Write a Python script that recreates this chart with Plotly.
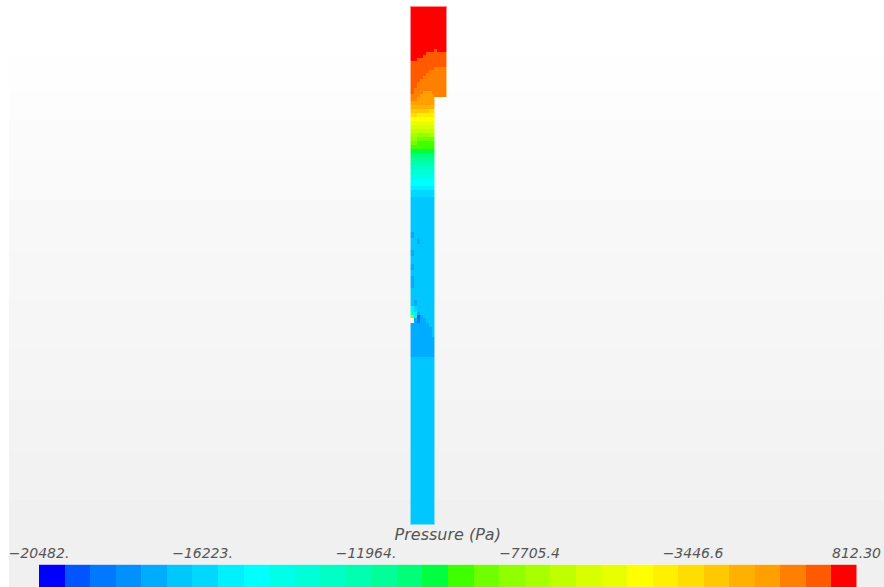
import plotly.graph_objects as go

# Contour band colours of the legend, lowest pressure first
band_colors = ["#0000ff","#0055ff","#0078ff","#0090ff","#00acff","#00c8ff","#00d8ff","#00f0ff",
               "#00ffff","#00ffe8","#00ffd8","#00ffc4","#00ffb0","#00ff98","#00ff78","#00ff40",
               "#40ff00","#70ff00","#90ff00","#a8ff00","#c0ff00","#d8ff00","#e8ff00","#ffff00",
               "#fff000","#ffdd00","#ffc800","#ffb000","#ffa000","#ff8000","#ff5a00","#ff0000"]
p_min = -20482.0
p_max = 812.30
tick_values = [-20482.0, -16223.0, -11964.0, -7705.4, -3446.6, 812.30]
tick_labels = ["\u221220482.", "\u221216223.", "\u221211964.", "\u22127705.4", "\u22123446.6", "812.30"]

# Page background grey level by screen row
bg_x = [9, 884]
bg_y = [0, 55, 90, 120, 160, 200, 250, 300, 350, 400, 450, 500, 587]
bg_level = [255, 254, 253, 251, 250, 248, 247, 246, 245, 243, 242, 240]

# Sampled pressure band per cell of the section
cell_x = [411, 414, 417, 420, 423, 426, 429, 432, 434, 437, 440, 443, 446]
cell_y = [7, 49, 52, 55, 58, 61, 67, 70, 73, 76, 79, 82, 88, 91, 94, 97, 101, 105, 109, 113, 117, 121, 125,
          129, 133, 137, 141, 145, 149, 153, 157, 161, 165, 170, 175, 180, 186, 190, 197, 232, 238, 244, 250,
          256, 264, 270, 276, 288, 294, 300, 306, 312, 315, 318, 323, 327, 332, 337, 345, 357, 524]
_ = None
cell_band = [
 [31,31,31,31,31,31,31,31,31,31,31,31],
 [31,31,31,31,31,31,31,31,30,31,31,31],
 [31,31,31,31,31,30,30,30,30,30,30,30],
 [31,31,31,31,30,30,30,30,30,30,30,30],
 [31,31,30,30,30,30,30,30,30,30,30,30],
 [30,30,30,30,30,30,30,30,30,30,30,30],
 [30,30,30,30,30,30,30,30,29,29,29,29],
 [30,30,30,30,30,30,29,29,29,29,29,29],
 [30,30,30,30,30,29,29,29,29,29,29,29],
 [30,30,30,30,29,29,29,29,29,29,29,29],
 [30,30,30,29,29,29,29,29,29,29,29,29],
 [30,30,29,29,29,29,29,29,29,29,29,29],
 [30,29,29,29,29,29,29,29,29,29,29,29],
 [30,29,29,29,28,28,28,29,29,29,29,29],
 [29,29,29,28,28,28,28,28,29,29,29,29],
 [29,29,28,28,28,28,28,28,_,_,_,_],
 [28,28,28,28,28,28,28,28,_,_,_,_],
 [27,27,27,27,27,27,27,27,_,_,_,_],
 [26,26,26,26,26,26,25,25,_,_,_,_],
 [25,25,24,24,24,24,24,24,_,_,_,_],
 [23,23,23,23,23,23,23,23,_,_,_,_],
 [22,22,22,22,22,22,22,22,_,_,_,_],
 [21,21,21,21,21,21,21,21,_,_,_,_],
 [20,20,20,20,20,20,20,20,_,_,_,_],
 [19,19,18,18,18,18,19,19,_,_,_,_],
 [18,18,17,17,17,17,17,17,_,_,_,_],
 [17,17,16,16,16,16,16,16,_,_,_,_],
 [16,16,16,16,16,16,16,16,_,_,_,_],
 [15,15,15,15,15,15,15,15,_,_,_,_],
 [14,14,14,14,14,14,14,14,_,_,_,_],
 [13,13,13,13,13,13,13,13,_,_,_,_],
 [12,12,12,12,12,12,12,12,_,_,_,_],
 [11,11,11,11,11,11,11,11,_,_,_,_],
 [10,10,10,10,10,10,10,10,_,_,_,_],
 [9,9,9,9,9,9,9,9,_,_,_,_],
 [8,8,8,8,8,8,8,8,_,_,_,_],
 [7,7,7,7,7,7,7,7,_,_,_,_],
 [6,6,6,6,6,6,6,6,_,_,_,_],
 [5,5,5,5,5,5,5,5,_,_,_,_],
 [4,5,5,5,5,5,5,5,_,_,_,_],
 [5,5,4,5,5,5,5,5,_,_,_,_],
 [5,5,5,5,5,5,5,5,_,_,_,_],
 [4,5,5,5,5,5,5,5,_,_,_,_],
 [5,5,5,5,5,5,5,5,_,_,_,_],
 [4,5,5,5,5,5,5,5,_,_,_,_],
 [5,5,5,5,5,5,5,5,_,_,_,_],
 [4,5,5,5,5,5,5,5,_,_,_,_],
 [5,5,5,5,5,5,5,5,_,_,_,_],
 [5,5,5,5,5,5,5,5,_,_,_,_],
 [5,4,5,5,5,5,5,5,_,_,_,_],
 [7,6,5,5,5,5,5,5,_,_,_,_],
 [10,7,4,5,5,5,5,5,_,_,_,_],
 [18,12,1,4,5,5,5,5,_,_,_,_],
 [_,4,2,4,4,5,5,5,_,_,_,_],
 [4,4,4,4,4,4,5,5,_,_,_,_],
 [4,4,4,4,4,4,4,5,_,_,_,_],
 [4,4,4,4,4,4,4,5,_,_,_,_],
 [4,4,4,4,4,4,4,4,_,_,_,_],
 [4,4,4,4,4,4,4,4,_,_,_,_],
 [5,5,5,5,5,5,5,5,_,_,_,_],
]
# Pale rim around the section: same cells, one pixel wider, half transparent
rim_x = [410, 414, 417, 420, 423, 426, 429, 432, 435, 437, 440, 443, 447]
rim_y = [6] + cell_y[1:-1] + [525]

n_bands = len(band_colors)
step = (p_max - p_min) / n_bands
band_edges = [p_min + i * step for i in range(n_bands + 1)]
band_mid = [p_min + (i + 0.5) * step for i in range(n_bands)]
scale = []
for i, c in enumerate(band_colors):
    scale += [[i / n_bands, c], [(i + 1) / n_bands, c]]
cell_pressure = [[None if b is None else band_mid[b] for b in row] for row in cell_band]

W, H = 884, 587
fig = go.Figure()
fig.add_trace(go.Heatmap(x=bg_x, y=bg_y, z=[[v] for v in bg_level], zmin=0, zmax=255,
                         colorscale=[[0, "#000000"], [1, "#ffffff"]], showscale=False, hoverinfo="skip"))
fig.add_trace(go.Heatmap(x=rim_x, y=rim_y, z=cell_pressure, zmin=p_min, zmax=p_max, opacity=0.45,
                         colorscale=scale, showscale=False, hoverinfo="skip"))
fig.add_trace(go.Heatmap(x=cell_x, y=cell_y, z=cell_pressure, zmin=p_min, zmax=p_max,
                         colorscale=scale, showscale=False, hoverongaps=False))
fig.add_trace(go.Heatmap(x=band_edges, y=[0, 1], z=[band_mid], zmin=p_min, zmax=p_max,
                         colorscale=scale, showscale=False, xaxis="x2", yaxis="y2"))

font = dict(family="DejaVu Sans", size=14, color="#555555", style="italic")
title_font = dict(family="DejaVu Sans", size=16, color="#555555", style="italic")
fig.update_layout(
    width=W, height=H, autosize=False,
    margin=dict(l=0, r=0, t=0, b=0, pad=0, autoexpand=False),
    paper_bgcolor="#ffffff", plot_bgcolor="#ffffff",
    showlegend=False,
    xaxis=dict(domain=[0, 1], range=[0, W], visible=False, fixedrange=True, automargin=False),
    yaxis=dict(domain=[0, 1], range=[H, 0], visible=False, fixedrange=True, automargin=False),
    xaxis2=dict(domain=[39 / W, 856.5 / W], range=[p_min, p_max], anchor="y2", side="top",
                tickvals=tick_values, ticktext=tick_labels, tickangle=0, tickfont=font,
                ticks="", ticklen=0, ticklabelstandoff=3, showgrid=False, zeroline=False, showline=False,
                title=dict(text="Pressure (Pa)", font=title_font, standoff=0), fixedrange=True, automargin=False),
    yaxis2=dict(domain=[0, 22.5 / H], range=[0, 1], anchor="x2", visible=False, fixedrange=True, automargin=False),
)
fig.write_html("out.html", config=dict(displayModeBar=False),
               post_script="document.body.style.margin='0';document.documentElement.style.overflow='hidden';")
